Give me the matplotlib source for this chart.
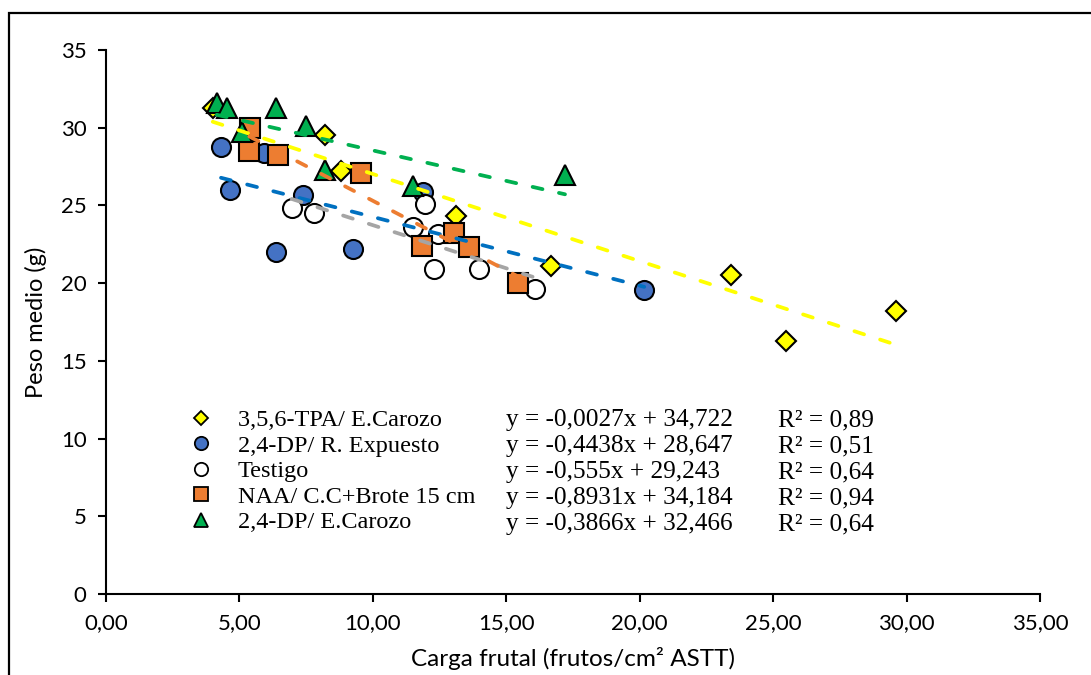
import numpy as np
import matplotlib.pyplot as plt
from matplotlib.lines import Line2D
from matplotlib.patches import Rectangle
from matplotlib.ticker import FuncFormatter, MultipleLocator

# datos por tratamiento: carga frutal (frutos/cm2 ASTT) y peso medio (g)
labels = ['3,5,6-TPA/ E.Carozo', '2,4-DP/ R. Expuesto', 'Testigo',
          'NAA/ C.C+Brote 15 cm', '2,4-DP/ E.Carozo']

x_tpa = [4.0, 8.2, 8.79, 13.1, 16.66, 23.42, 25.5, 29.6]
y_tpa = [31.3, 29.54, 27.24, 24.32, 21.1, 20.53, 16.3, 18.23]

x_dp_re = [4.31, 4.65, 5.92, 7.39, 6.37, 9.27, 11.89, 20.17]
y_dp_re = [28.79, 26.0, 28.4, 25.68, 22.03, 22.18, 25.89, 19.56]

x_testigo = [6.96, 7.79, 11.95, 11.49, 12.45, 12.3, 13.99, 16.07]
y_testigo = [24.82, 24.5, 25.1, 23.64, 23.17, 20.9, 20.9, 19.6]

x_naa = [5.4, 5.37, 6.46, 9.54, 13.04, 11.86, 13.61, 15.45]
y_naa = [29.97, 28.53, 28.25, 27.07, 23.25, 22.36, 22.31, 19.99]

x_dp_ec = [4.15, 4.52, 5.08, 6.37, 7.48, 8.2, 11.49, 17.2]
y_dp_ec = [31.57, 31.25, 29.75, 31.25, 30.08, 27.28, 26.25, 26.96]

ecuaciones = ['y = -0,0027x + 34,722', 'y = -0,4438x + 28,647',
              'y = -0,555x + 29,243', 'y = -0,8931x + 34,184',
              'y = -0,3866x + 32,466']
r2 = ['R² = 0,89', 'R² = 0,51', 'R² = 0,64', 'R² = 0,94', 'R² = 0,64']

xs = [x_tpa, x_dp_re, x_testigo, x_naa, x_dp_ec]
ys = [y_tpa, y_dp_re, y_testigo, y_naa, y_dp_ec]
marcadores = ['D', 'o', 'o', 's', '^']
tamanos = [9.8, 13.7, 13.7, 14.0, 14.2]
relleno = ['#FFFF00', '#4472C4', '#FFFFFF', '#ED7D31', '#00B050']
lineas = ['#FFFF00', '#0070C0', '#A5A5A5', '#ED7D31', '#00B050']

fig = plt.figure(figsize=(10.91, 6.75), dpi=100)
ax = fig.add_axes([106 / 1091, 81 / 675, 934 / 1091, 544 / 675])

for i in range(5):
    ax.plot(xs[i], ys[i], linestyle='none', marker=marcadores[i],
            markersize=tamanos[i], markerfacecolor=relleno[i],
            markeredgecolor='black', markeredgewidth=1.5, zorder=3 + i)

# lineas de tendencia (minimos cuadrados) entre el minimo y maximo de x
for i in range(5):
    coef = np.polyfit(xs[i], ys[i], 1)
    xx = np.array([min(xs[i]), max(xs[i])])
    ax.plot(xx, np.polyval(coef, xx), color=lineas[i], lw=2.7,
            linestyle=(0, (2.7, 4.5)), dash_capstyle='round', zorder=10 + i)

ax.set_xlim(0, 35)
ax.set_ylim(0, 35)
ax.xaxis.set_major_locator(MultipleLocator(5))
ax.yaxis.set_major_locator(MultipleLocator(5))
ax.xaxis.set_major_formatter(FuncFormatter(lambda v, p: f'{v:.2f}'.replace('.', ',')))
ax.yaxis.set_major_formatter(FuncFormatter(lambda v, p: f'{v:.0f}'))

for s in ['top', 'right']:
    ax.spines[s].set_visible(False)
for s in ['left', 'bottom']:
    ax.spines[s].set_linewidth(1.5)
ax.tick_params(direction='out', length=6, width=1.5, labelsize=16, pad=8)
for t in ax.get_xticklabels() + ax.get_yticklabels():
    t.set_family('Lato')

ax.set_xlabel('Carga frutal (frutos/cm² ASTT)', family='Lato', fontsize=17.5, labelpad=10)
ax.set_ylabel('Peso medio (g)', family='Lato', fontsize=17, labelpad=10)

handles = [Line2D([], [], linestyle='none', marker=marcadores[i],
                  markersize=tamanos[i] * 0.7, markerfacecolor=relleno[i],
                  markeredgecolor='black', markeredgewidth=1.3)
           for i in range(5)]
ax.legend(handles, labels, loc='upper left', bbox_to_anchor=(177 / 1091, 1 - 397 / 675),
          bbox_transform=fig.transFigure, frameon=False, handlelength=1.0,
          handletextpad=1.0, labelspacing=0.145, borderpad=0,
          prop={'family': 'Liberation Serif', 'size': 17.5})

for i in range(5):
    yy = 1 - (420 + 26 * i) / 675
    fig.text(506 / 1091, yy, ecuaciones[i], family='Liberation Serif', fontsize=18.2, va='center')
    fig.text(778 / 1091, yy, r2[i], family='Liberation Serif', fontsize=18.2, va='center')

fig.add_artist(Rectangle((9 / 1091, -5 / 675), 1100 / 1091, 667 / 675,
                         transform=fig.transFigure, fill=False, lw=1.6, ec='black'))

fig.savefig('out.png', dpi=100)
